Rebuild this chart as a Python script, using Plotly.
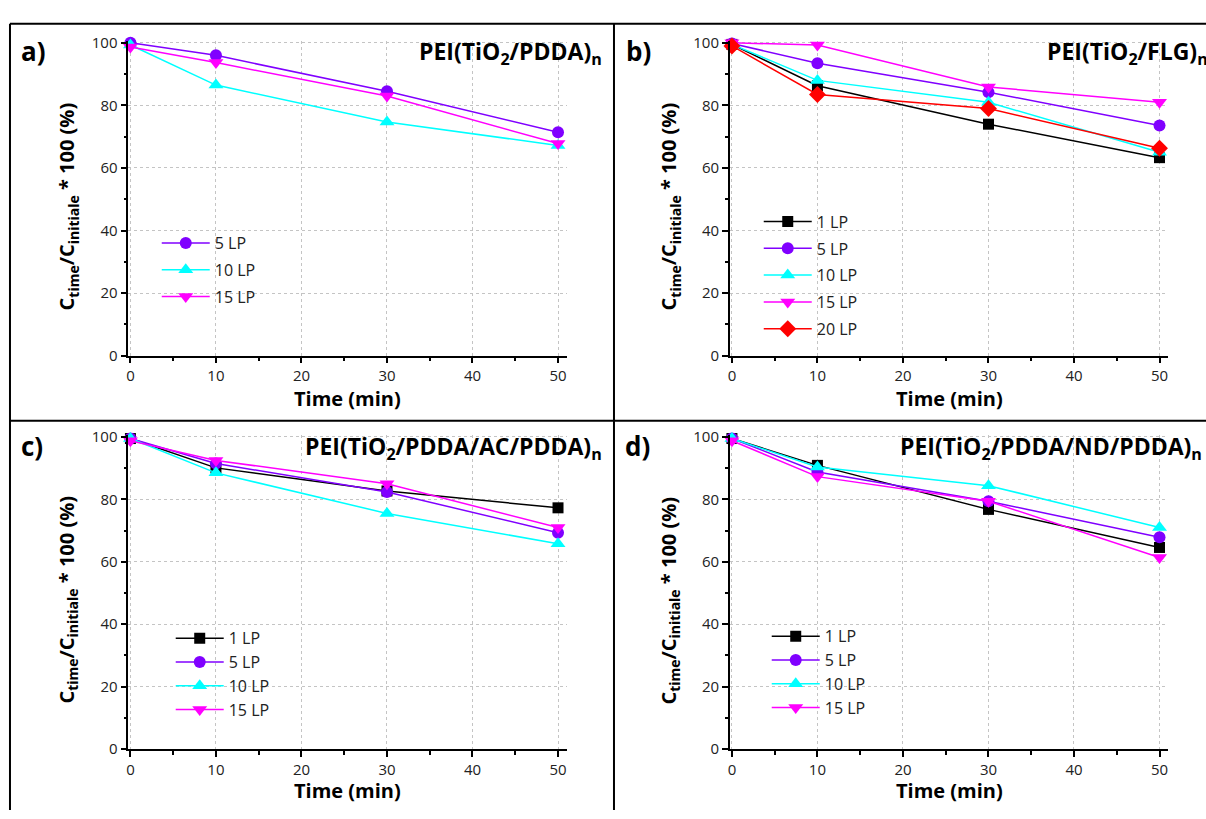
import plotly.graph_objects as go

W, H = 1206, 819

# ---------------- data ----------------
time_min = [0, 10, 30, 50]

a_labels = ["5 LP", "10 LP", "15 LP"]
a_5LP = [100, 96.0, 84.5, 71.4]
a_10LP = [99.3, 86.5, 74.7, 67.2]
a_15LP = [98.7, 93.7, 83.0, 67.8]

b_labels = ["1 LP", "5 LP", "10 LP", "15 LP", "20 LP"]
b_1LP = [99.5, 86.3, 74.0, 63.3]
b_5LP = [99.8, 93.5, 84.2, 73.6]
b_10LP = [99.5, 88.0, 81.0, 65.0]
b_15LP = [100, 99.3, 85.9, 81.0]
b_20LP = [99.0, 83.5, 79.0, 66.3]

c_labels = ["1 LP", "5 LP", "10 LP", "15 LP"]
c_1LP = [99.5, 90.1, 82.7, 77.3]
c_5LP = [99.5, 91.5, 82.4, 69.3]
c_10LP = [99.5, 88.5, 75.5, 65.8]
c_15LP = [98.8, 92.5, 85.0, 71.0]

d_labels = ["1 LP", "5 LP", "10 LP", "15 LP"]
d_1LP = [99.5, 90.9, 76.8, 64.6]
d_5LP = [99.5, 88.8, 79.4, 67.9]
d_10LP = [99.5, 90.4, 84.4, 71.0]
d_15LP = [98.8, 87.3, 79.4, 61.4]

x_ticks = [0, 10, 20, 30, 40, 50]
y_ticks = [0, 20, 40, 60, 80, 100]

panel_titles = ["PEI(TiO<sub>2</sub>/PDDA)<sub>n</sub>",
                "PEI(TiO<sub>2</sub>/FLG)<sub>n</sub>",
                "PEI(TiO<sub>2</sub>/PDDA/AC/PDDA)<sub>n</sub>",
                "PEI(TiO<sub>2</sub>/PDDA/ND/PDDA)<sub>n</sub>"]
panel_letters = ["a)", "b)", "c)", "d)"]
x_title = "Time (min)"
y_title = "C<sub>time</sub>/C<sub>initiale</sub> * 100 (%)"

# ---------------- styles ----------------
STY = {
    "1 LP": dict(color="#000000", symbol="square", size=11),
    "5 LP": dict(color="#8000FF", symbol="circle", size=12),
    "10 LP": dict(color="#00FFFF", symbol="triangle-up", size=13),
    "15 LP": dict(color="#FF00FF", symbol="triangle-down", size=13),
    "20 LP": dict(color="#FF0000", symbol="diamond", size=13),
}
FONT = "Open Sans"


def px(x):
    return x / W


def py(y):
    return 1 - y / H


fig = go.Figure()

panels = [
    (a_labels, [a_5LP, a_10LP, a_15LP]),
    (b_labels, [b_1LP, b_5LP, b_10LP, b_15LP, b_20LP]),
    (c_labels, [c_1LP, c_5LP, c_10LP, c_15LP]),
    (d_labels, [d_1LP, d_5LP, d_10LP, d_15LP]),
]

# pixel boxes of plot areas: (x0, x1, ytop, ybottom)
boxes = [
    (126.5, 565.5, 33, 354.5),
    (729, 1168, 33, 354.5),
    (126.5, 565.5, 436, 756.7),
    (729, 1168, 436, 756.7),
]

legend_pos = [(155, 222), (758, 200), (169, 626), (766, 624)]
legend_gap = [3, 3, 0, 0]

for i, (labels, series) in enumerate(panels):
    n = i + 1
    xa = "x" if n == 1 else f"x{n}"
    ya = "y" if n == 1 else f"y{n}"
    lg = "legend" if n == 1 else f"legend{n}"
    for lab, vals in zip(labels, series):
        s = STY[lab]
        fig.add_trace(go.Scatter(
            x=time_min, y=vals, name=lab, mode="lines+markers",
            xaxis=xa, yaxis=ya, legend=lg,
            legendgroup=f"{n}-{lab}",
            line=dict(color=s["color"], width=1.5),
            marker=dict(symbol=s["symbol"], size=s["size"], color=s["color"],
                        line=dict(width=0)),
            cliponaxis=False,
        ))

layout = dict(
    width=W, height=H,
    margin=dict(l=0, r=0, t=0, b=0),
    paper_bgcolor="white", plot_bgcolor="white",
    font=dict(family=FONT, color="#222222"),
    showlegend=True,
)

axis_common = dict(
    showline=True, linecolor="black", linewidth=1.5,
    ticks="outside", ticklen=6, tickwidth=1.5, tickcolor="black",
    showgrid=True, gridcolor="#c4c4c4", griddash="dot", gridwidth=1,
    zeroline=False, tickfont=dict(family=FONT, size=15, color="#222222"),
)

for i, (x0, x1, yt, yb) in enumerate(boxes):
    n = i + 1
    xk = "xaxis" if n == 1 else f"xaxis{n}"
    yk = "yaxis" if n == 1 else f"yaxis{n}"
    xa = "x" if n == 1 else f"x{n}"
    ya = "y" if n == 1 else f"y{n}"
    layout[xk] = dict(axis_common, domain=[px(x0), px(x1)], anchor=ya,
                      range=[-0.25, 51], tickvals=x_ticks,
                      minor=dict(dtick=5, tick0=0, ticks="outside", ticklen=4,
                                 tickwidth=1.5, tickcolor="black", showgrid=False))
    layout[yk] = dict(axis_common, domain=[py(yb), py(yt)], anchor=xa,
                      range=[0, 100.5], tickvals=y_ticks,
                      minor=dict(dtick=10, tick0=0, ticks="outside", ticklen=3,
                                 tickwidth=1.5, tickcolor="black", showgrid=False))
    lk = "legend" if n == 1 else f"legend{n}"
    lx, ly = legend_pos[i]
    layout[lk] = dict(x=px(lx), y=py(ly), xanchor="left", yanchor="top",
                      bgcolor="rgba(0,0,0,0)", borderwidth=0,
                      font=dict(family=FONT, size=16, color="#222222"),
                      itemwidth=48, tracegroupgap=legend_gap[i],
                      traceorder="grouped", itemclick=False)

annotations = []
# panel titles
title_specs = [
    (603, 44, "right"),
    (1045, 44, "left"),
    (603, 448, "right"),
    (897, 448, "left"),
]
for (tx, ty, anc), txt in zip(title_specs, panel_titles):
    annotations.append(dict(xref="paper", yref="paper", x=px(tx), y=py(ty),
                            xanchor=anc, yanchor="middle", text=f"<b>{txt}</b>",
                            showarrow=False,
                            font=dict(family=FONT, size=23, color="black")))
# panel letters
letter_pos = [(32, 43), (638, 43), (30, 447), (637, 447)]
for (lx, ly), txt in zip(letter_pos, panel_letters):
    annotations.append(dict(xref="paper", yref="paper", x=px(lx), y=py(ly),
                            xanchor="center", yanchor="middle", text=f"<b>{txt}</b>",
                            showarrow=False,
                            font=dict(family=FONT, size=26, color="black")))
# axis titles
xt_pos = [(346, 398), (949, 398), (346, 799), (949, 799)]
yt_pos = [(66, 202), (669, 202), (66, 604), (669, 605)]
for (xx, xy), (yx, yy) in zip(xt_pos, yt_pos):
    annotations.append(dict(xref="paper", yref="paper", x=px(xx), y=py(xy),
                            xanchor="center", yanchor="middle",
                            text=f"<b>{x_title}</b>", showarrow=False,
                            font=dict(family=FONT, size=20, color="black")))
    annotations.append(dict(xref="paper", yref="paper", x=px(yx), y=py(yy),
                            xanchor="center", yanchor="middle", textangle=-90,
                            text=f"<b>{y_title}</b>", showarrow=False,
                            font=dict(family=FONT, size=20, color="black")))
layout["annotations"] = annotations

# panel frames
frame = dict(type="line", xref="paper", yref="paper",
             line=dict(color="black", width=2))
shapes = [
    dict(frame, x0=px(8), x1=px(1206), y0=py(15), y1=py(15)),
    dict(frame, x0=px(8), x1=px(8), y0=py(15), y1=py(819)),
    dict(frame, x0=px(613), x1=px(613), y0=py(15), y1=py(819)),
    dict(frame, x0=px(8), x1=px(1206), y0=py(421), y1=py(421)),
]
layout["shapes"] = shapes

fig.update_layout(**layout)
fig.write_html(
    "out.html",
    config=dict(displayModeBar=False, responsive=False),
    post_script=("document.documentElement.style.overflow='hidden';"
                 "document.body.style.margin='0';"
                 "document.body.style.padding='0';"
                 "document.body.style.overflow='hidden';"
                 "var gd=document.getElementById('{plot_id}');"
                 "gd.style.position='fixed';gd.style.top='0px';gd.style.left='0px';"),
)
